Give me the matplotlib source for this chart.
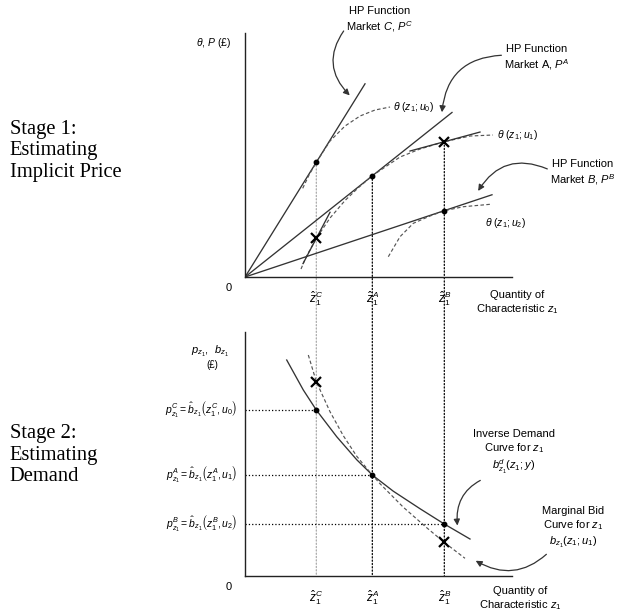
import numpy as np
import matplotlib
matplotlib.use('Agg')
import matplotlib.pyplot as plt
from matplotlib.patches import ConnectionPatch

plt.rcParams['font.family'] = ['Liberation Sans', 'DejaVu Sans']
plt.rcParams['mathtext.fontset'] = 'custom'
plt.rcParams['mathtext.rm'] = 'Liberation Sans'
plt.rcParams['mathtext.it'] = 'Liberation Sans:italic'
plt.rcParams['mathtext.bf'] = 'Liberation Sans:bold'

# chosen quantities of z1 in markets C, A, B
markets = ['C', 'A', 'B']
z_hat = [7.13, 12.73, 19.93]

# stage 1: hedonic price functions (rays from origin) and bid curves
hp_slope = [1.61, 0.795, 0.333]
hp_end = [12.0, 20.7, 24.7]

u0_x = [5.77, 6.4, 7.13, 8.5, 10.0, 11.5, 13.0, 14.5]
u0_y = [8.87, 10.2, 11.47, 13.6, 15.1, 16.1, 16.7, 17.0]
u1_x = [5.6, 6.1, 7.13, 8.5, 10.0, 11.3, 12.73, 15.5, 17.5, 19.93, 22.5, 24.8]
u1_y = [0.8, 2.0, 3.87, 5.9, 7.65, 8.9, 10.13, 12.0, 12.8, 13.53, 14.1, 14.2]
u2_x = [14.33, 15.5, 16.83, 18.5, 19.93, 21.83, 24.5]
u2_y = [2.03, 4.03, 5.37, 6.1, 6.63, 7.03, 7.27]

# off-market points on u1 and the tangents drawn through them
cross1_x = [7.13, 19.93]
cross1_y = [3.87, 13.53]
tan_slope = [1.9, 0.271]
tan_span = [(5.8, 8.5), (16.5, 23.5)]

# stage 2: implicit prices, inverse demand and marginal bid curve
price_level = [16.57, 10.07, 5.17]
demand_x = [4.17, 5.83, 7.13, 9.17, 11.17, 12.73, 14.83, 17.5, 19.93, 22.5]
demand_y = [21.57, 18.57, 16.57, 13.9, 11.6, 10.07, 8.45, 6.7, 5.17, 3.67]
bid_x = [6.33, 7.13, 8.5, 9.83, 11.17, 12.73, 13.5, 15.83, 18.17, 19.93, 22.0]
bid_y = [22.07, 19.4, 16.4, 14.0, 11.95, 10.07, 9.2, 6.85, 4.8, 3.33, 1.74]
cross2_x = [7.13, 19.93]
cross2_y = [19.4, 3.33]

level_labels = [r'$p_{z_1}^{C}=\hat{b}_{z_1}\left(z_1^{C},u_0\right)$',
                r'$p_{z_1}^{A}=\hat{b}_{z_1}\left(z_1^{A},u_1\right)$',
                r'$p_{z_1}^{B}=\hat{b}_{z_1}\left(z_1^{B},u_2\right)$']
tick_labels = [r'$\hat{z}_1^{%s}$' % m for m in markets]

solid = dict(color='#333333', lw=0.95)
dashed = dict(color='#555555', lw=0.85, ls=(0, (3, 2)))
arrow = dict(arrowstyle='-|>', color='#333333', lw=0.9, mutation_scale=9)

fig = plt.figure(figsize=(6.2, 6.16), dpi=100)
ax1 = fig.add_axes([0.3952, 0.5503, 0.4306, 0.3961])
ax2 = fig.add_axes([0.3952, 0.0654, 0.4306, 0.3961])

for ax in (ax1, ax2):
    ax.set_facecolor('none')
    ax.set_xlim(0, 26.7)
    ax.set_ylim(0, 24.4)
    for s in ('top', 'right'):
        ax.spines[s].set_visible(False)
    for s in ('left', 'bottom'):
        ax.spines[s].set_color('#222222')
        ax.spines[s].set_linewidth(1.0)
    ax.set_yticks([])
    ax.set_xticks(z_hat)
    ax.set_xticklabels(tick_labels, fontsize=8.5)
    ax.tick_params(axis='x', length=0, pad=9)
    ax.text(-1.6, -1.1, '0', fontsize=8, ha='center', va='center')

# ---- stage 1
for z, s, xe in zip(z_hat, hp_slope, hp_end):
    ax1.plot([0, xe], [0, s * xe], **solid)
ax1.plot(u0_x, u0_y, **dashed)
ax1.plot(u1_x, u1_y, **dashed)
ax1.plot(u2_x, u2_y, **dashed)
for x0, y0, s, (xa, xb) in zip(cross1_x, cross1_y, tan_slope, tan_span):
    ax1.plot([xa, xb], [y0 + s * (xa - x0), y0 + s * (xb - x0)], **solid)
ax1.plot(z_hat, [s * z for s, z in zip(hp_slope, z_hat)], 'o', color='black', ms=3.2, zorder=5)
ax1.plot(cross1_x, cross1_y, 'x', color='black', ms=7, mew=1.6, zorder=5)

ax1.text(-3.1, 23.4, r'$\theta$, $P$ (£)', fontsize=7.5, ha='center', va='center')
ax1.text(14.8, 17.0, r'$\theta\ (z_1;u_0)$', fontsize=7.5, ha='left', va='center')
ax1.text(25.2, 14.2, r'$\theta\ (z_1;u_1)$', fontsize=7.5, ha='left', va='center')
ax1.text(24.0, 5.4, r'$\theta\ (z_1;u_2)$', fontsize=7.5, ha='left', va='center')
ax1.text(27.2, -2.6, 'Quantity of\nCharacteristic $z_1$', fontsize=8,
         ha='center', va='center', linespacing=1.25)

ax1.annotate('HP Function\nMarket $C$, $P^C$', xy=(10.67, 17.97), xytext=(13.5, 25.7),
             fontsize=8, ha='center', va='center', linespacing=1.35, annotation_clip=False,
             arrowprops=dict(connectionstyle='arc3,rad=0.45', shrinkA=0,
                             relpos=(0.0, 0.25), **arrow))
ax1.annotate('HP Function\nMarket A, $P^A$', xy=(19.67, 16.2), xytext=(29.2, 21.9),
             fontsize=8, ha='center', va='center', linespacing=1.35, annotation_clip=False,
             arrowprops=dict(connectionstyle='arc3,rad=0.45', shrinkA=0,
                             relpos=(0.0, 0.6), **arrow))
ax1.annotate('HP Function\nMarket $B$, $P^B$', xy=(23.17, 8.37), xytext=(33.8, 10.4),
             fontsize=8, ha='center', va='center', linespacing=1.35, annotation_clip=False,
             arrowprops=dict(connectionstyle='arc3,rad=0.45', shrinkA=0,
                             relpos=(0.0, 0.6), **arrow))

# ---- stage 2
ax2.plot(demand_x, demand_y, **solid)
ax2.plot(bid_x, bid_y, **dashed)
ax2.hlines(price_level, 0, z_hat, colors='black', linestyles=':', lw=0.9)
ax2.plot(z_hat, price_level, 'o', color='black', ms=3.2, zorder=5)
ax2.plot(cross2_x, cross2_y, 'x', color='black', ms=7, mew=1.6, zorder=5)
for p, lab in zip(price_level, level_labels):
    ax2.text(-0.8, p, lab, fontsize=7.5, ha='right', va='center', clip_on=False)

ax2.text(-3.5, 22.4, r'$p_{z_1}$,  $b_{z_1}$', fontsize=8, ha='center', va='center')
ax2.text(-3.3, 21.1, '(£)', fontsize=7, ha='center', va='center')
ax2.text(27.5, -2.35, 'Quantity of\nCharacteristic $z_1$', fontsize=8,
         ha='center', va='center', linespacing=1.25)

ax2.annotate('Inverse Demand\nCurve for $z_1$\n$b^{d}_{z_1}(z_1;y)$', xy=(21.27, 4.74),
             xytext=(26.9, 12.3), fontsize=8, ha='center', va='center',
             linespacing=1.25, annotation_clip=False,
             arrowprops=dict(connectionstyle='arc3,rad=0.4', shrinkA=2,
                             relpos=(0.2, 0.0), **arrow))
ax2.annotate('Marginal Bid\nCurve for $z_1$\n$b_{z_1}(z_1;u_1)$', xy=(22.83, 1.64),
             xytext=(32.8, 4.8), fontsize=8, ha='center', va='center',
             linespacing=1.25, annotation_clip=False,
             arrowprops=dict(connectionstyle='arc3,rad=-0.4', shrinkA=2,
                             relpos=(0.15, 0.0), **arrow))

# dotted guides running from stage 1 points down to the stage 2 axis
guide_top = [hp_slope[0] * z_hat[0], hp_slope[1] * z_hat[1], cross1_y[1]]
guide_col = ['#aaaaaa', 'black', 'black']
for z, yt, c in zip(z_hat, guide_top, guide_col):
    con = ConnectionPatch(xyA=(z, yt), coordsA=ax1.transData, xyB=(z, 0),
                          coordsB=ax2.transData, color=c, ls=':', lw=0.9, zorder=1,
                          clip_on=False)
    ax1.add_artist(con)

fig.text(0.016, 0.755, 'Stage 1:\nEstimating\nImplicit Price', family='Liberation Serif',
         fontsize=14.8, ha='left', va='center', linespacing=1.18)
fig.text(0.016, 0.261, 'Stage 2:\nEstimating\nDemand', family='Liberation Serif',
         fontsize=14.8, ha='left', va='center', linespacing=1.18)

fig.savefig('out.png', dpi=100)
